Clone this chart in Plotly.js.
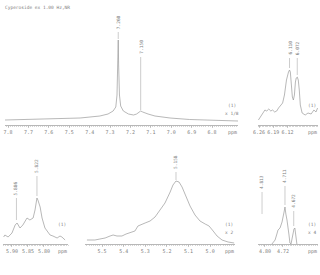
<!DOCTYPE html>
<html><head><meta charset="utf-8">
<script src="https://cdn.plot.ly/plotly-3.0.1.min.js"></script>
<style>html,body{margin:0;padding:0;background:#fff}#c{width:320px;height:275px}</style>
</head><body><div id="c"></div>
<script>
// Title
const titleText = "Cyperoside ex 1.00 Hz,NR";

// Panel 1: aromatic region
const p1_ppm = [7.815,7.69,7.545,7.447,7.35,7.31,7.285,7.272,7.266,7.262,7.26,7.258,7.254,7.248,7.235,7.21,7.185,7.17,7.16,7.15,7.14,7.128,7.114,7.08,7.006,6.91,6.81,6.673];
const p1_int = [5,5.5,6,7,9,11,14,18,30,60,85,60,30,19,14,11,10,11,12.5,14,13,12,11,9,7,5.5,5,4];
const p1_ticks = [7.8,7.7,7.6,7.5,7.4,7.3,7.2,7.1,7.0,6.9,6.8];
const p1_tickText = ["7.8","7.7","7.6","7.5","7.4","7.3","7.2","7.1","7.0","6.9","6.8"];
const p1_peaks = [7.260, 7.150];
const p1_peakLabels = ["7.260","7.150"];
const p1_lineTop = [93, 68];
const p1_lineBot = [86, 15];

// Panel 2
const p2_ppm = [6.263,6.250,6.241,6.231,6.222,6.212,6.202,6.193,6.183,6.173,6.164,6.154,6.144,6.135,6.125,6.115,6.110,6.106,6.101,6.096,6.091,6.086,6.081,6.077,6.072,6.067,6.062,6.057,6.048,6.033,6.019,6.004,5.990,5.980,5.972];
const p2_int = [5,9,12,15,14,16,14,15,13,14,17,19,22,30,45,53,55,53,40,28,25,30,43,47,48,45,35,20,12,10,12,11,15,13,17];
const p2_ticks = [6.26,6.19,6.12];
const p2_tickText = ["6.26","6.19","6.12"];
const p2_peaks = [6.110, 6.072];
const p2_peakLabels = ["6.110","6.072"];
const p2_lineTop = [67, 67];
const p2_lineBot = [57, 50];

// Panel 3
const p3_ppm = [5.926,5.922,5.912,5.900,5.890,5.884,5.875,5.866,5.853,5.844,5.834,5.828,5.822,5.819,5.812,5.806,5.797,5.781,5.772,5.759,5.750,5.744,5.734];
const p3_int = [7,9,7,11,19,21,16,19,26,24,26,34,46,44,37,26,16,9,8,6,8,7,4];
const p3_ticks = [5.90,5.85,5.80];
const p3_tickText = ["5.90","5.85","5.80"];
const p3_peaks = [5.886, 5.822];
const p3_peakLabels = ["5.886","5.822"];
const p3_lineTop = [46, 68];
const p3_lineBot = [24, 48];

// Panel 4
const p4_ppm = [5.570,5.533,5.510,5.486,5.463,5.449,5.431,5.408,5.389,5.371,5.348,5.334,5.320,5.301,5.278,5.255,5.232,5.209,5.185,5.172,5.158,5.144,5.130,5.111,5.093,5.070,5.047,5.023,5.005,4.986,4.968,4.945,4.917,4.889];
const p4_int = [4,4,5,6,8,9,8,8,10,11,13,18,19,21,23,27,34,41,52,59,63,62,57,48,38,29,23,20,18,13,8,4,2,1];
const p4_ticks = [5.5,5.4,5.3,5.2,5.1,5.0];
const p4_tickText = ["5.5","5.4","5.3","5.2","5.1","5.0"];
const p4_peaks = [5.158];
const p4_peakLabels = ["5.158"];
const p4_lineTop = [72];
const p4_lineBot = [64];

// Panel 5
const p5_ppm = [4.769,4.755,4.747,4.742,4.733,4.729,4.724,4.715,4.711,4.707,4.702,4.693,4.689,4.684,4.680,4.676,4.671,4.667,4.662,4.658];
const p5_int = [0,4,10,14,16,19,22,32,37,30,24,9,1,0,6,12,15,16,9,0];
const p5_ticks = [4.80,4.72];
const p5_tickText = ["4.80","4.72"];
const p5_peaks = [4.813, 4.711, 4.672];
const p5_peakLabels = ["4.813","4.711","4.672"];
const p5_lineTop = [52, 58, 33];
const p5_lineBot = [30, 39, 18];

const scaleNotes = [["(1)","x 1/8"],["(1)"],["(1)"],["(1)","x 2"],["(1)","x 4"]];

// ---- build ----
const W=320,H=275;
const px2x = p => p/W, py2y = p => 1-p/H;
const boxes = [ // [x0px,x1px,axisYpx,topYpx, ppmLeft, ppmRight]
  [5,238,125,10,7.815,6.673],
  [258,318,125,10,6.265,5.970],
  [3,68,244,140,5.928,5.725],
  [85,235,244,140,5.579,4.885],
  [258,318,244,140,4.831,4.564]
];
const P = [
  [p1_ppm,p1_int,p1_ticks,p1_tickText,p1_peaks,p1_peakLabels,p1_lineTop,p1_lineBot,0.01],
  [p2_ppm,p2_int,p2_ticks,p2_tickText,p2_peaks,p2_peakLabels,p2_lineTop,p2_lineBot,0.007],
  [p3_ppm,p3_int,p3_ticks,p3_tickText,p3_peaks,p3_peakLabels,p3_lineTop,p3_lineBot,0.005],
  [p4_ppm,p4_int,p4_ticks,p4_tickText,p4_peaks,p4_peakLabels,p4_lineTop,p4_lineBot,0.01],
  [p5_ppm,p5_int,p5_ticks,p5_tickText,p5_peaks,p5_peakLabels,p5_lineTop,p5_lineBot,0.008]
];
const gray='#9a9a9a', tgray='#808080';
const FONT="DejaVu Sans Mono";
const traces=[], shapes=[], annotations=[];
const layout={width:W,height:H,margin:{l:0,r:0,t:0,b:0},paper_bgcolor:'#fff',plot_bgcolor:'rgba(0,0,0,0)',showlegend:false,
  font:{family:FONT,size:5,color:tgray}};
annotations.push({text:titleText,xref:'paper',yref:'paper',x:px2x(3),y:py2y(3),xanchor:'left',yanchor:'top',showarrow:false,font:{size:4.5,color:tgray,family:FONT}});
P.forEach((p,i)=>{
  const b=boxes[i], n=i+1, xs=n===1?'':n, xa='x'+xs, ya='y'+xs;
  const ymax=b[2]-b[3];
  traces.push({x:p[0],y:p[1],xaxis:xa,yaxis:ya,type:'scatter',mode:'lines',line:{color:gray,width:0.7},hoverinfo:'skip'});
  layout['xaxis'+xs]={domain:[px2x(b[0]),px2x(b[1])],range:[b[4],b[5]],anchor:ya,showgrid:false,zeroline:false,
    showline:true,linecolor:gray,linewidth:0.7,ticks:'outside',ticklen:2.5,tickcolor:gray,tickwidth:0.5,
    tickvals:p[2],ticktext:p[3],tickangle:0,
    tickfont:{size:5,color:tgray,family:FONT},
    minor:{dtick:p[8],ticks:'outside',ticklen:1.5,tickcolor:gray,tickwidth:0.4,showgrid:false}};
  layout['yaxis'+xs]={domain:[py2y(b[2]),py2y(b[3])],range:[0,ymax],anchor:xa,visible:false,fixedrange:true};
  // ppm label
  annotations.push({text:'ppm',xref:'paper',yref:'paper',x:px2x(b[1]-6),y:py2y(b[2]),yanchor:'top',xanchor:'center',yshift:-2,showarrow:false,font:{size:5,color:tgray,family:FONT}});
  // peak labels
  p[4].forEach((pk,j)=>{
    shapes.push({type:'line',xref:xa,yref:ya,x0:pk,x1:pk,y0:p[7][j],y1:p[6][j],line:{color:gray,width:0.5}});
    annotations.push({text:p[5][j],xref:xa,yref:ya,x:pk,y:p[6][j],yanchor:'bottom',xanchor:'center',textangle:-90,showarrow:false,yshift:1,font:{size:4.5,color:tgray,family:FONT}});
  });
  // scale notes
  scaleNotes[i].forEach((t,k)=>{
    annotations.push({text:t,xref:'paper',yref:'paper',x:px2x(b[1]-6),y:py2y(b[2]-20+k*8),xanchor:'center',yanchor:'middle',showarrow:false,font:{size:4.5,color:tgray,family:FONT}});
  });
});
layout.shapes=shapes; layout.annotations=annotations;
Plotly.newPlot('c',traces,layout,{staticPlot:true,displayModeBar:false});
</script></body></html>
